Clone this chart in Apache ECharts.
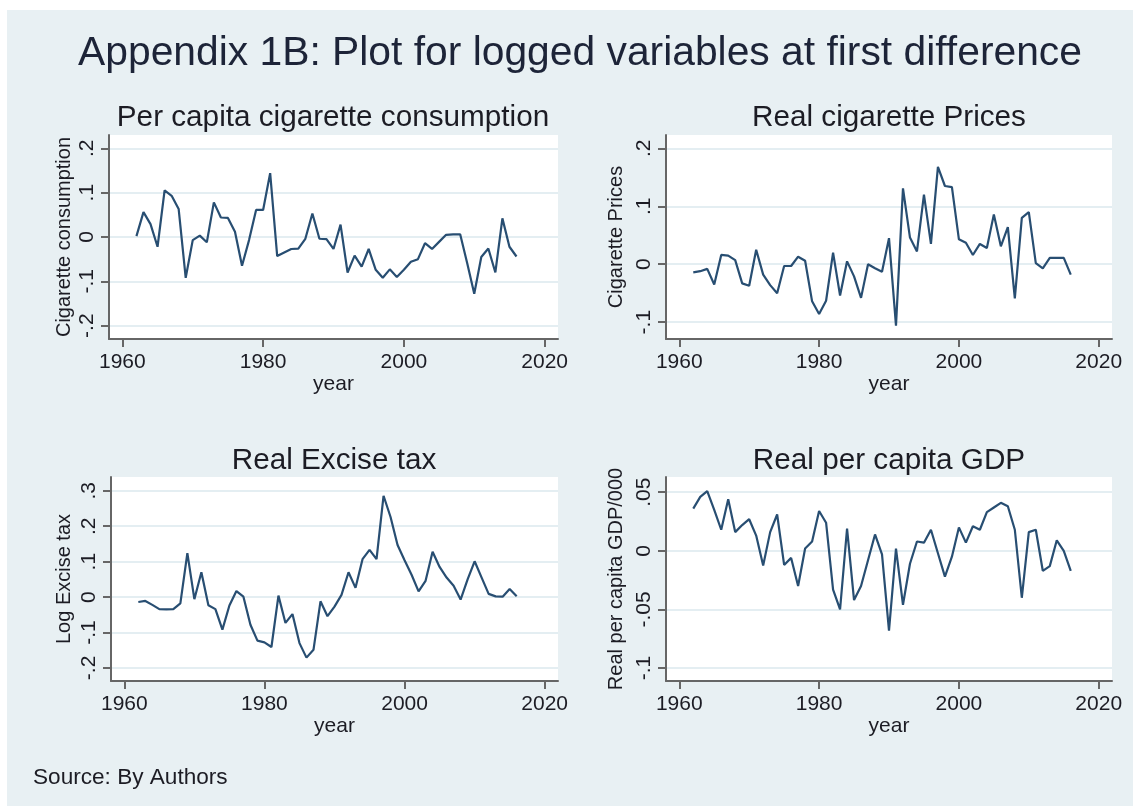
<!DOCTYPE html>
<html>
<head>
<meta charset="utf-8">
<script src="https://cdn.jsdelivr.net/npm/echarts@6/dist/echarts.min.js"></script>
<style>
  html, body { margin: 0; padding: 0; background: #fff; }
  #main { position: absolute; left: 7px; top: 10px; width: 1126px; height: 796px; }
</style>
</head>
<body>
<div id="main"></div>
<script>
var years = [1962, 1963, 1964, 1965, 1966, 1967, 1968, 1969, 1970, 1971,
  1972, 1973, 1974, 1975, 1976, 1977, 1978, 1979, 1980, 1981,
  1982, 1983, 1984, 1985, 1986, 1987, 1988, 1989, 1990, 1991,
  1992, 1993, 1994, 1995, 1996, 1997, 1998, 1999, 2000, 2001,
  2002, 2003, 2004, 2005, 2006, 2007, 2008, 2009, 2010, 2011,
  2012, 2013, 2014, 2015, 2016];

// per capita cigarette consumption (d.log)
var consumption = [0.002, 0.056, 0.029, -0.022, 0.105, 0.093, 0.063, -0.092, -0.007, 0.003,
  -0.012, 0.078, 0.044, 0.043, 0.012, -0.065, -0.007, 0.061, 0.061, 0.144,
  -0.043, -0.035, -0.027, -0.026, -0.004, 0.053, -0.004, -0.005, -0.027, 0.028,
  -0.080, -0.042, -0.067, -0.027, -0.074, -0.092, -0.073, -0.090, -0.074, -0.056,
  -0.050, -0.014, -0.027, -0.011, 0.005, 0.006, 0.006, -0.059, -0.128, -0.045,
  -0.026, -0.080, 0.042, -0.022, -0.044];

// real cigarette prices
var prices = [-0.014, -0.012, -0.008, -0.035, 0.016, 0.015, 0.007, -0.033, -0.037, 0.025,
  -0.018, -0.036, -0.050, -0.003, -0.003, 0.013, 0.006, -0.064, -0.086, -0.063,
  0.020, -0.054, 0.005, -0.021, -0.058, 0.000, -0.007, -0.013, 0.045, -0.106,
  0.131, 0.046, 0.022, 0.120, 0.035, 0.168, 0.135, 0.133, 0.043, 0.037,
  0.016, 0.035, 0.028, 0.086, 0.031, 0.064, -0.059, 0.080, 0.090, 0.002,
  -0.007, 0.011, 0.011, 0.011, -0.018];

// real excise tax
var exciseTax = [-0.014, -0.011, -0.022, -0.034, -0.035, -0.034, -0.018, 0.124, -0.006, 0.070,
  -0.023, -0.034, -0.092, -0.024, 0.017, 0.001, -0.078, -0.123, -0.128, -0.141,
  0.004, -0.073, -0.048, -0.130, -0.171, -0.149, -0.012, -0.054, -0.027, 0.006,
  0.070, 0.026, 0.107, 0.133, 0.107, 0.286, 0.226, 0.147, 0.104, 0.063,
  0.016, 0.046, 0.128, 0.085, 0.055, 0.032, -0.007, 0.050, 0.101, 0.055,
  0.009, 0.002, 0.001, 0.023, 0.002];

// real per capita GDP
var gdp = [0.036, 0.046, 0.051, 0.035, 0.018, 0.044, 0.016, 0.022, 0.027, 0.013,
  -0.0125, 0.016, 0.031, -0.012, -0.006, -0.030, 0.002, 0.008, 0.034, 0.024,
  -0.033, -0.050, 0.019, -0.042, -0.030, -0.008, 0.014, -0.003, -0.068, 0.002,
  -0.046, -0.011, 0.008, 0.007, 0.018, -0.002, -0.022, -0.005, 0.020, 0.007,
  0.021, 0.018, 0.033, 0.037, 0.041, 0.038, 0.018, -0.040, 0.016, 0.018,
  -0.017, -0.013, 0.009, 0.000, -0.017];

var xTicks = [1960, 1980, 2000, 2020];
var yTicksConsumption = [-0.2, -0.1, 0, 0.1, 0.2];
var yTicksPrices = [-0.1, 0, 0.1, 0.2];
var yTicksExcise = [-0.2, -0.1, 0, 0.1, 0.2, 0.3];
var yTicksGdp = [-0.1, -0.05, 0, 0.05];

var panels = [
  { title: "Per capita cigarette consumption", yName: "Cigarette consumption", values: consumption,
    ticks: yTicksConsumption, min: -0.23, max: 0.23,
    grid: { left: 102, top: 125, width: 449, height: 204 }, tx: 326, ty: 108, nameGap: 35 },
  { title: "Real cigarette Prices", yName: "Cigarette Prices", values: prices,
    ticks: yTicksPrices, min: -0.129, max: 0.223,
    grid: { left: 659, top: 125, width: 446, height: 204 }, tx: 882, ty: 108, nameGap: 40 },
  { title: "Real Excise tax", yName: "Log Excise tax", values: exciseTax,
    ticks: yTicksExcise, min: -0.237, max: 0.339,
    grid: { left: 104, top: 467, width: 447, height: 204 }, tx: 327, ty: 451, nameGap: 37 },
  { title: "Real per capita GDP", yName: "Real per capita GDP/000", values: gdp,
    ticks: yTicksGdp, min: -0.111, max: 0.063,
    grid: { left: 659, top: 467, width: 446, height: 204 }, tx: 882, ty: 451, nameGap: 40 }
];

var textColor = "#1c1c24";
var axisColor = "#666666";
var gridColor = "#e4eef2";
var lineColor = "#284e72";

function stataNum(v) {
  return String(v).replace("0.", ".");
}

var grids = [], xAxes = [], yAxes = [], series = [];
var graphics = [
  {
    type: "text", x: 573, y: 44,
    style: { text: "Appendix 1B: Plot for logged variables at first difference",
      font: "40.8px 'Liberation Sans', Arial, sans-serif", fill: "#1d2438",
      textAlign: "center", textVerticalAlign: "middle" }
  },
  {
    type: "text", x: 26, y: 768,
    style: { text: "Source: By Authors", font: "22.6px 'Liberation Sans', Arial, sans-serif",
      fill: textColor, textAlign: "left", textVerticalAlign: "middle" }
  }
];

panels.forEach(function (p, i) {
  grids.push({
    left: p.grid.left, top: p.grid.top, width: p.grid.width, height: p.grid.height,
    show: true, backgroundColor: "#ffffff", borderWidth: 0
  });
  xAxes.push({
    type: "value", gridIndex: i, min: 1958.1, max: 2021.9,
    name: "year", nameLocation: "middle", nameGap: 33,
    nameTextStyle: { color: textColor, fontSize: 21, fontFamily: "Liberation Sans" },
    axisLine: { show: true, onZero: false, lineStyle: { color: axisColor, width: 2 } },
    axisTick: { show: true, length: 8, customValues: xTicks, lineStyle: { color: axisColor, width: 2 } },
    axisLabel: { customValues: xTicks, margin: 13, color: textColor, fontSize: 21,
      fontFamily: "Liberation Sans", formatter: function (v) { return String(v); } },
    splitLine: { show: false }
  });
  yAxes.push({
    type: "value", gridIndex: i, min: p.min, max: p.max,
    name: p.yName, nameLocation: "middle", nameGap: p.nameGap, nameRotate: 90,
    nameTextStyle: { color: textColor, fontSize: 20, fontFamily: "Liberation Sans" },
    axisLine: { show: true, onZero: false, lineStyle: { color: axisColor, width: 2 } },
    axisTick: { show: true, length: 8, customValues: p.ticks, lineStyle: { color: axisColor, width: 2 } },
    axisLabel: { customValues: p.ticks, rotate: 90, margin: 11, color: textColor, fontSize: 21,
      fontFamily: "Liberation Sans", formatter: stataNum },
    splitLine: { show: true, lineStyle: { color: gridColor, width: 2 } }
  });
  series.push({
    type: "line", xAxisIndex: i, yAxisIndex: i, symbol: "none", silent: true,
    lineStyle: { color: lineColor, width: 2.2 },
    data: years.map(function (y, k) { return [y, p.values[k]]; })
  });
  graphics.push({
    type: "text", x: p.tx, y: p.ty,
    style: { text: p.title, font: "29.7px 'Liberation Sans', Arial, sans-serif", fill: textColor,
      textAlign: "center", textVerticalAlign: "middle" }
  });
});

var chart = echarts.init(document.getElementById("main"));
chart.setOption({
  backgroundColor: "#e8f0f3",
  animation: false,
  grid: grids,
  xAxis: xAxes,
  yAxis: yAxes,
  series: series,
  graphic: graphics
});
</script>
</body>
</html>
